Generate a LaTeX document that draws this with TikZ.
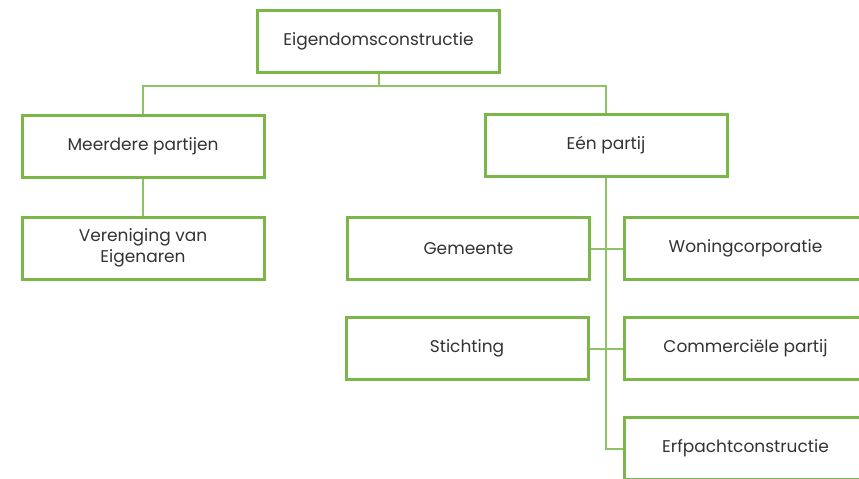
\documentclass[tikz,border=0pt]{standalone}
\usepackage{fontspec}
\setmainfont{Poppins}
\usetikzlibrary{positioning}
\definecolor{boxgreen}{HTML}{7AB648}
\definecolor{linegreen}{HTML}{8DC265}
\definecolor{textgray}{HTML}{333333}
\tikzset{%
    orgbox/.style={
      rectangle,
      draw=boxgreen,
      line width=3pt,
      minimum width=242pt,
      minimum height=62pt,
      align=center,
      text=textgray,
      font=\fontsize{17}{21}\selectfont
    },
    link/.style={
      draw=linegreen,
      line width=2pt
    }
  }
\begin{document}
\begin{tikzpicture}[x=1pt, y=-1pt]
      \useasboundingbox (0,0) rectangle (859,479);

      \node [orgbox] (top) at (378.5,41) {Eigendomsconstructie};

      \node [orgbox] (meer) at (143,146.5) {Meerdere partijen};
      \node [orgbox] (een) at (606,145.5) {Eén partij};

      \node [orgbox] (vve) at (143,248) {Vereniging van\\Eigenaren};

      \node [orgbox] (gem) at (468.5,248.5) {Gemeente};
      \node [orgbox] (stich) at (467,348.5) {Stichting};

      \node [orgbox] (woning) at (745.5,248.5) {Woningcorporatie};
      \node [orgbox] (comm) at (745.5,348.5) {Commerciële partij};
      \node [orgbox] (erf) at (745.5,448.5) {Erfpachtconstructie};

      \coordinate (split) at (378.5,86);
      \coordinate (spine) at (606,448.5);

      \draw [link] (top.south) -- (split);
      \draw [link] (split) -| (meer.north);
      \draw [link] (split) -| (een.north);

      \draw [link] (meer) -- (vve);

      \draw [link] (een.south) -- (spine) -- (erf.west);
      \draw [link] (gem.east) -- (woning.west);
      \draw [link] (stich.east) -- (stich.east -| comm.west);
    \end{tikzpicture}
\end{document}
